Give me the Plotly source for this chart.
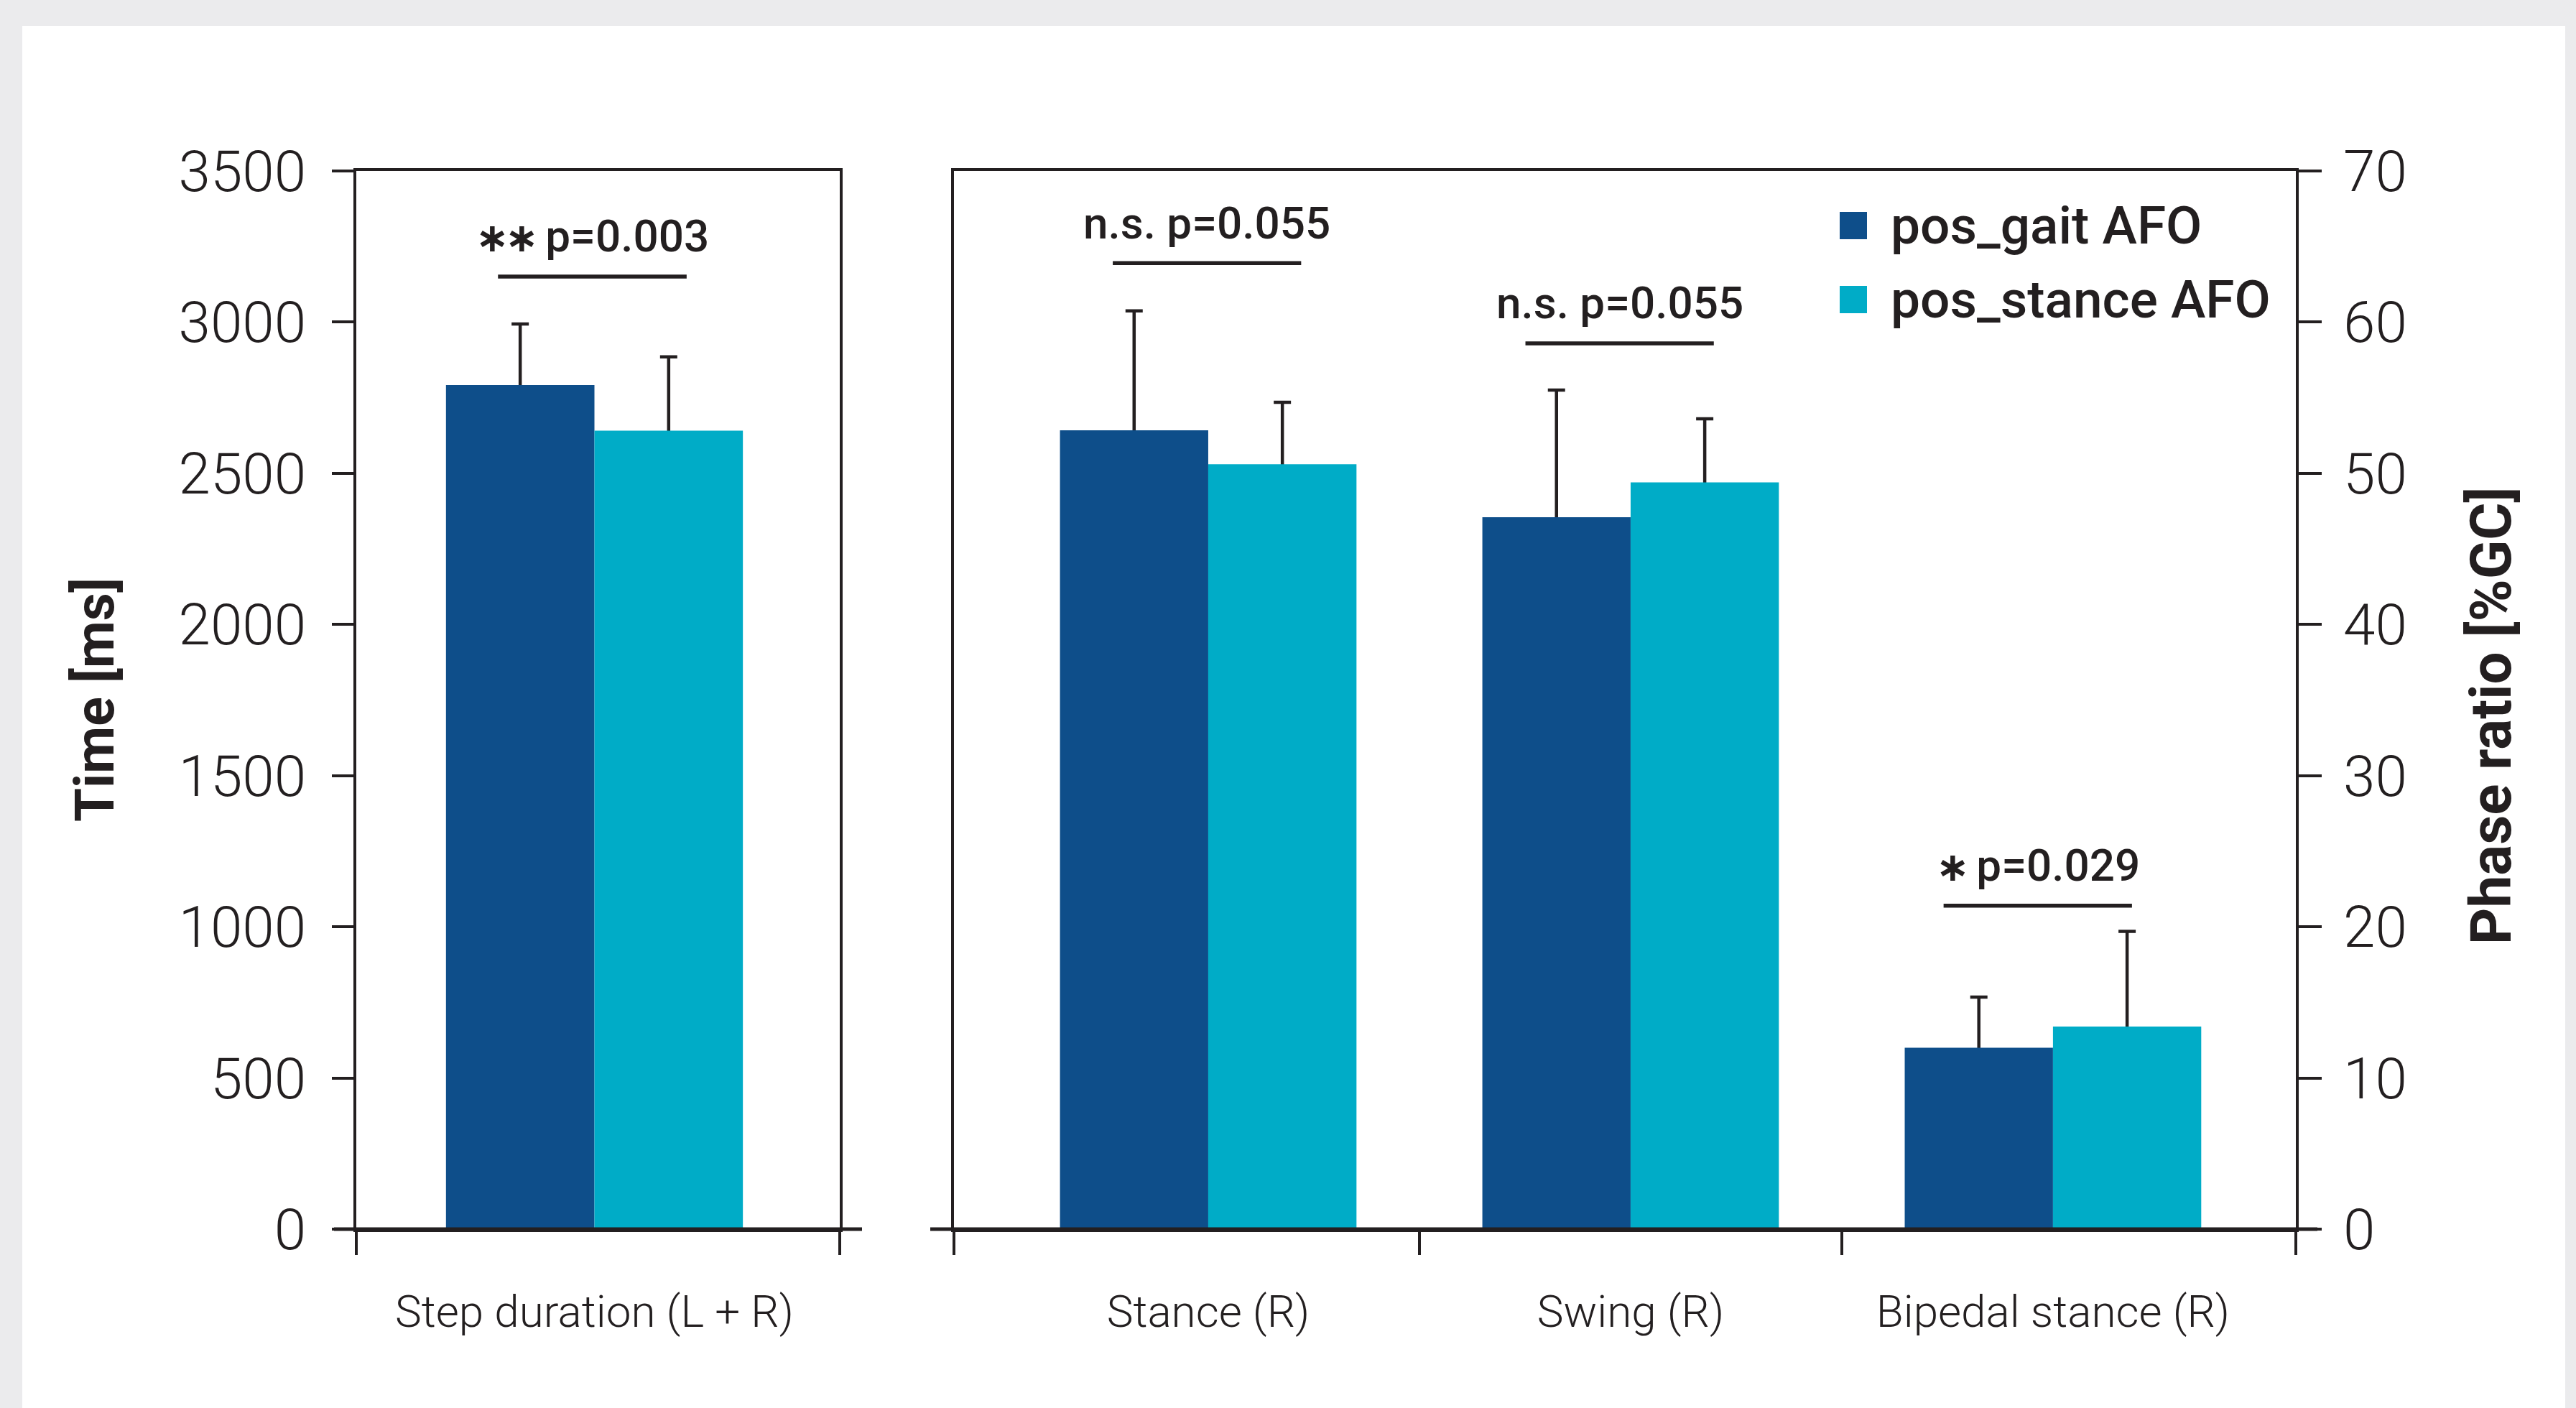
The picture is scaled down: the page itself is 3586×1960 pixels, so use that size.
import plotly.graph_objects as go

# ---------------- data ----------------
left_categories = ["Step duration (L + R)"]
right_categories = ["Stance (R)", "Swing (R)", "Bipedal stance (R)"]
series_names = ["pos_gait AFO", "pos_stance AFO"]

# Time [ms] (left axis)
gait_time = [2792]
gait_time_err = [202]
stance_time = [2641]
stance_time_err = [244]

# Phase ratio [%GC] (right axis)
gait_phase = [52.85, 47.1, 12.0]
gait_phase_err = [7.9, 8.4, 3.35]
stance_phase = [50.6, 49.4, 13.4]
stance_phase_err = [4.1, 4.2, 6.3]

left_ticks = [0, 500, 1000, 1500, 2000, 2500, 3000, 3500]
right_ticks = [0, 10, 20, 30, 40, 50, 60, 70]

# significance annotations: (stars, text, axis, x-centre, y-level)
sig_stars = ["**", "", "", "*"]
sig_texts = ["p=0.003", "n.s. p=0.055", "n.s. p=0.055", "p=0.029"]
sig_axes = ["left", "right", "right", "right"]
sig_x = [-0.005, -0.003, 0.974, 1.964]
sig_y = [3151, 63.9, 58.6, 21.4]

# ---------------- style ----------------
W, H = 3586, 1960
DARK = "#0e4e8a"
CYAN = "#00acc7"
INK = "#231f20"
FONT = "Roboto"
BW = 0.351  # bar width in category units

px = lambda v: v / W
py = lambda v: 1 - v / H

x1_dom = [px(496), px(1169)]
x2_dom = [px(1328), px(3196)]
y_dom = [py(1711), py(238)]

left_x = list(range(len(left_categories)))
right_x = list(range(len(right_categories)))

fig = go.Figure()


def add_pair(xs, g, ge, s, se, xa, ya):
    # transparent holders carry the error bars (lower half hidden by the real bars)
    for vals, errs, off in [(g, ge, -BW), (s, se, 0)]:
        fig.add_trace(go.Bar(
            x=xs, y=vals, width=BW, offset=off, xaxis=xa, yaxis=ya,
            marker=dict(color="rgba(0,0,0,0)", line=dict(width=0)),
            error_y=dict(type="data", array=errs, visible=True, color=INK,
                         thickness=4.5, width=12),
            showlegend=False, hoverinfo="skip"))
    for vals, off, col, name in [(g, -BW, DARK, series_names[0]), (s, 0, CYAN, series_names[1])]:
        fig.add_trace(go.Bar(
            x=xs, y=vals, width=BW, offset=off, xaxis=xa, yaxis=ya, name=name,
            marker=dict(color=col, line=dict(width=0)), showlegend=False))


add_pair(left_x, gait_time, gait_time_err, stance_time, stance_time_err, "x", "y")
add_pair(right_x, gait_phase, gait_phase_err, stance_phase, stance_phase_err, "x2", "y2")

axis_common = dict(showgrid=False, zeroline=False, showline=True, linecolor=INK,
                   linewidth=4, mirror=True, automargin=False)
tick_font_y = dict(family=FONT, size=80, color=INK, weight=300)
tick_font_x = dict(family=FONT, size=62, color=INK, weight=300)

x1_range = [-0.563, 0.580]
x2_range = [-0.602, 2.575]

fig.update_layout(
    width=W, height=H,
    margin=dict(l=0, r=0, t=0, b=0, pad=0),
    paper_bgcolor="#ebebed",
    plot_bgcolor="#ffffff",
    barmode="overlay",
    showlegend=False,
    xaxis=dict(domain=x1_dom, range=x1_range, anchor="y",
               tickvals=left_x, ticktext=left_categories, ticks="",
               tickfont=tick_font_x, ticklabelstandoff=58,
               minor=dict(tickvals=[x1_range[0] + 1e-4, x1_range[1] - 1e-4],
                          ticks="outside", ticklen=32, tickwidth=4, tickcolor=INK),
               **axis_common),
    xaxis2=dict(domain=x2_dom, range=x2_range, anchor="y2",
                tickvals=right_x, ticktext=right_categories, ticks="",
                tickfont=tick_font_x, ticklabelstandoff=58,
                minor=dict(tickvals=[x2_range[0] + 1e-4, 0.5, 1.5, x2_range[1] - 1e-4],
                           ticks="outside", ticklen=32, tickwidth=4, tickcolor=INK),
                **axis_common),
    yaxis=dict(domain=y_dom, range=[0, 3500], anchor="x", side="left",
               tickvals=left_ticks, ticks="outside", ticklen=30, tickwidth=4,
               tickcolor=INK, tickfont=tick_font_y, ticklabelstandoff=20,
               **axis_common),
    yaxis2=dict(domain=y_dom, range=[0, 70], anchor="x2", side="right",
                tickvals=right_ticks, ticks="outside", ticklen=32, tickwidth=4,
                tickcolor=INK, tickfont=tick_font_y, ticklabelstandoff=14,
                **axis_common),
)

shapes = []
# white panel
shapes.append(dict(type="rect", xref="paper", yref="paper", x0=px(31), x1=px(3571),
                   y0=-0.01, y1=py(36), fillcolor="white", line=dict(width=0), layer="below"))
# bottom axis extensions
shapes.append(dict(type="line", xref="x domain", yref="y domain",
                   x0=-31 / 673, x1=1 + 31 / 673, y0=0, y1=0,
                   line=dict(color=INK, width=5)))
shapes.append(dict(type="line", xref="x2 domain", yref="y2 domain",
                   x0=-33 / 1868, x1=1 + 30 / 1868, y0=0, y1=0,
                   line=dict(color=INK, width=5)))

annotations = []
half = 0.223
for st, lab, ax, xc, yl in zip(sig_stars, sig_texts, sig_axes, sig_x, sig_y):
    xr, yr = ("x", "y") if ax == "left" else ("x2", "y2")
    shapes.append(dict(type="line", xref=xr, yref=yr, x0=xc - half, x1=xc + half,
                       y0=yl, y1=yl, line=dict(color=INK, width=5.5)))
    star = st.replace("*", "\u2217")
    txt = (f"<span style='font-family:DejaVu Sans;font-size:56px;font-weight:bold;"
           f"letter-spacing:-6px'>{star}</span> " if st else "") + lab
    annotations.append(dict(text=txt, xref=xr, yref=yr, x=xc, y=yl, yshift=56,
                            showarrow=False, xanchor="center", yanchor="middle",
                            font=dict(family=FONT, size=62, color=INK, weight=500)))

# legend (drawn manually to match the large square keys)
legend_y = [314, 417]
for name, col, yc in zip(series_names, [DARK, CYAN], legend_y):
    shapes.append(dict(type="rect", xref="paper", yref="paper",
                       x0=px(2561), x1=px(2599), y0=py(yc + 19), y1=py(yc - 19),
                       fillcolor=col, line=dict(width=0)))
    annotations.append(dict(text=name, xref="paper", yref="paper", x=px(2630), y=py(yc),
                            xanchor="left", yanchor="middle", showarrow=False,
                            font=dict(family=FONT, size=73, color=INK, weight=500)))

# axis titles
annotations.append(dict(text="<b>Time [ms]</b>", xref="paper", yref="paper",
                        x=px(132), y=py(974), textangle=-90, showarrow=False,
                        xanchor="center", yanchor="middle",
                        font=dict(family=FONT, size=76, color=INK)))
annotations.append(dict(text="<b>Phase ratio [%GC]</b>", xref="paper", yref="paper",
                        x=px(3468), y=py(997), textangle=-90, showarrow=False,
                        xanchor="center", yanchor="middle",
                        font=dict(family=FONT, size=80, color=INK)))

fig.update_layout(shapes=shapes, annotations=annotations)

fig.write_html("out.html")
